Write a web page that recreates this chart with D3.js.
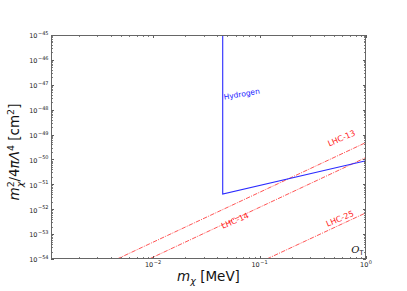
<!DOCTYPE html>
<html><head><meta charset="utf-8">
<script src="https://cdn.jsdelivr.net/npm/d3@7"></script>
<style>body{margin:0;background:#fff} svg{display:block} text{font-family:"DejaVu Sans",sans-serif}</style>
</head><body><svg id="c" width="407" height="291"></svg>
<script>
// ---- data ----
const xDomain = [1.1e-3, 1];
const yDomain = [1e-54, 1e-45];
const xTickValues = [1e-2, 1e-1, 1e0];
const xTickExps = ["\u22122", "\u22121", "0"];
const yTickValues = [1e-54, 1e-53, 1e-52, 1e-51, 1e-50, 1e-49, 1e-48, 1e-47, 1e-46, 1e-45];
const yTickExps = ["\u221254", "\u221253", "\u221252", "\u221251", "\u221250", "\u221249", "\u221248", "\u221247", "\u221246", "\u221245"];
const hydrogenM = [0.0451, 0.0451, 1];
const hydrogenS = [1e-45, 4.1e-52, 8.9e-51];
const lhc13M = [4.6e-3, 1];
const lhc13S = [1e-54, 4.8e-50];
const lhc14M = [9.2e-3, 1];
const lhc14S = [1e-54, 1.2e-50];
const lhc25M = [0.117, 1];
const lhc25S = [1e-54, 7.2e-53];
const labelTexts = ["Hydrogen", "LHC-13", "LHC-14", "LHC-25"];
const labelM = [0.068, 0.59, 0.059, 0.57];
const labelS = [4.2e-48, 7.0e-50, 3.4e-53, 4.1e-53];

// ---- layout ----
const L = 51, R = 366, T = 35, B = 259;
const svg = d3.select("#c");
const x = d3.scaleLog().domain(xDomain).range([L, R]);
const y = d3.scaleLog().domain(yDomain).range([B, T]);

svg.append("defs").append("clipPath").attr("id", "clip")
  .append("rect").attr("x", L).attr("y", T).attr("width", R - L).attr("height", B - T);

const plot = svg.append("g").attr("clip-path", "url(#clip)");
const line = d3.line().x(d => x(d[0])).y(d => y(d[1]));

function pts(ms, ss) { return ms.map((m, i) => [m, ss[i]]); }

const red = "#ff2020";
[[lhc13M, lhc13S], [lhc14M, lhc14S], [lhc25M, lhc25S]].forEach(([ms, ss]) => {
  plot.append("path").attr("d", line(pts(ms, ss)))
    .attr("fill", "none").attr("stroke", red).attr("stroke-width", 0.9)
    .attr("stroke-dasharray", "4.5,1.2,1,1.2").attr("opacity", 0.85);
});
plot.append("path").attr("d", line(pts(hydrogenM, hydrogenS)))
  .attr("fill", "none").attr("stroke", "#2a2aff").attr("stroke-width", 1.1);

// labels
const rots = [-10, -23, -23, -23];
const cols = ["#1a1aff", red, red, red];
const sizes = [7.5, 8, 8, 8];
labelTexts.forEach((t, i) => {
  const px = x(labelM[i]), py = y(labelS[i]);
  svg.append("text").attr("transform", `translate(${px},${py}) rotate(${rots[i]})`)
    .attr("text-anchor", "middle").attr("dominant-baseline", "central")
    .attr("font-size", sizes[i]).attr("fill", cols[i]).text(t);
});
// O_T
const ot = svg.append("text").attr("x", x(0.83)).attr("y", y(2.3e-54) + 3.5)
  .attr("text-anchor", "middle").attr("font-size", 10).attr("fill", "#111");
ot.append("tspan").attr("font-family", "DejaVu Serif").attr("font-style", "italic").text("O");
ot.append("tspan").attr("font-size", 6.5).attr("dy", 2).text("T");

// ticks
const ax = svg.append("g");
const minorX = [], minorY = [];
for (let n = -3; n <= 0; n++) for (let k = 2; k <= 9; k++) {
  const v = k * Math.pow(10, n);
  if (v >= xDomain[0] && v <= xDomain[1]) minorX.push(v);
}
for (let n = -54; n < -45; n++) for (let k = 2; k <= 9; k++) minorY.push(k * Math.pow(10, n));

function tickX(v, len) {
  const px = Math.round(x(v)) + 0.5;
  ax.append("line").attr("x1", px).attr("x2", px).attr("y1", B).attr("y2", B - len).attr("stroke", "#333").attr("stroke-width", 0.8);
  ax.append("line").attr("x1", px).attr("x2", px).attr("y1", T).attr("y2", T + len).attr("stroke", "#333").attr("stroke-width", 0.8);
}
function tickY(v, len) {
  const py = Math.round(y(v)) + 0.5;
  ax.append("line").attr("y1", py).attr("y2", py).attr("x1", L).attr("x2", L + len).attr("stroke", "#333").attr("stroke-width", 0.8);
  ax.append("line").attr("y1", py).attr("y2", py).attr("x1", R).attr("x2", R - len).attr("stroke", "#333").attr("stroke-width", 0.8);
}
minorX.forEach(v => tickX(v, 1.8));
xTickValues.forEach(v => tickX(v, 3));
minorY.forEach(v => tickY(v, 1.8));
yTickValues.forEach(v => tickY(v, 3));

// spines
svg.append("rect").attr("x", L + 0.5).attr("y", T + 0.5).attr("width", R - L - 1).attr("height", B - T - 1)
  .attr("fill", "none").attr("stroke", "#666").attr("stroke-width", 1);

// tick labels
xTickValues.forEach((v, i) => {
  const t = svg.append("text").attr("x", x(v)).attr("y", 267).attr("text-anchor", "middle")
    .attr("font-size", 6.5).attr("fill", "#222");
  t.append("tspan").text("10");
  t.append("tspan").attr("font-size", 5).attr("dy", -3.3).attr("dx", 0.5).text(xTickExps[i]);
});
yTickValues.forEach((v, i) => {
  const t = svg.append("text").attr("x", 48.5).attr("y", y(v) + 3.3).attr("text-anchor", "end")
    .attr("font-size", 6.5).attr("fill", "#222");
  t.append("tspan").text("10");
  t.append("tspan").attr("font-size", 5).attr("dy", -3.3).attr("dx", 0.5).text(yTickExps[i]);
});

// axis labels
const xl = svg.append("text").attr("x", (L + R) / 2).attr("y", 281).attr("text-anchor", "middle")
  .attr("font-size", 13.5).attr("fill", "#111");
xl.append("tspan").attr("font-style", "italic").text("m");
xl.append("tspan").attr("font-style", "italic").attr("font-size", 9.5).attr("dy", 3).text("\u03C7");
xl.append("tspan").attr("dy", -3).text(" [MeV]");

const yl = svg.append("text").attr("transform", `translate(19,${(T + B) / 2 + 5}) rotate(-90)`)
  .attr("text-anchor", "middle").attr("font-size", 13.5).attr("fill", "#111");
yl.append("tspan").attr("font-style", "italic").text("m");
yl.append("tspan").attr("font-size", 9.5).attr("dy", -5.5).text("2");
yl.append("tspan").attr("font-style", "italic").attr("font-size", 9.5).attr("dx", -6).attr("dy", 9).text("\u03C7");
yl.append("tspan").attr("dy", -3.5).text("/4");
yl.append("tspan").attr("font-style", "italic").text("\u03C0\u039B");
yl.append("tspan").attr("font-size", 9.5).attr("dy", -5.5).text("4");
yl.append("tspan").attr("dy", 5.5).text(" [cm");
yl.append("tspan").attr("font-size", 9.5).attr("dy", -5.5).text("2");
yl.append("tspan").attr("dy", 5.5).text("]");
</script></body></html>
